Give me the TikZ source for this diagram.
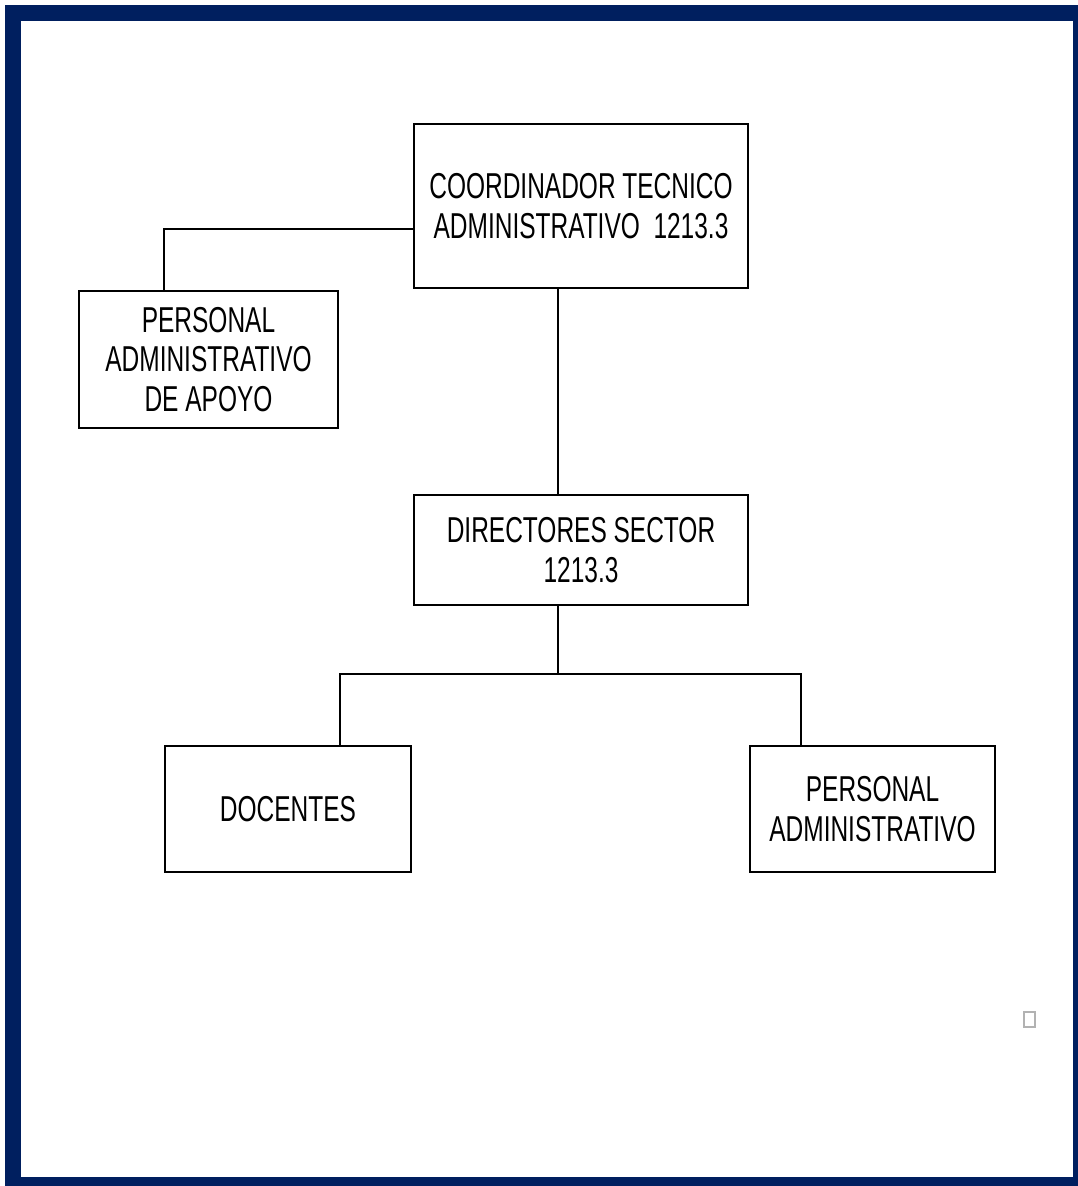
\documentclass[tikz,border=0pt]{standalone}
\usepackage{fontspec}
\newfontfamily\boxfont[FakeStretch=0.68]{Liberation Sans}
\definecolor{navy}{HTML}{001F5F}
\begin{document}
\begin{tikzpicture}[x=1pt,y=-1pt,
  orgbox/.style={draw=black, line width=2pt, fill=white, inner sep=0pt, align=center,
    font=\boxfont\fontsize{36}{39.5}\selectfont},
  link/.style={draw=black, line width=2pt}]
\useasboundingbox (0,0) rectangle (1078,1186);
\fill[white] (0,0) rectangle (1078,1186);
\fill[navy] (5,5) rectangle (1078,1186);
\fill[white] (21,21) rectangle (1073,1177);

\node[orgbox, minimum width=334pt, minimum height=164pt] (coord) at (581,206)
  {COORDINADOR TECNICO\\ADMINISTRATIVO\ \ 1213.3};
\node[orgbox, minimum width=259pt, minimum height=137pt] (paa) at (208.5,359.5)
  {PERSONAL\\ADMINISTRATIVO\\DE APOYO};
\node[orgbox, minimum width=334pt, minimum height=110pt] (dir) at (581,550)
  {DIRECTORES SECTOR\\1213.3};
\node[orgbox, minimum width=246pt, minimum height=126pt] (doc) at (288,809)
  {DOCENTES};
\node[orgbox, minimum width=245pt, minimum height=126pt] (pa) at (872.5,809)
  {PERSONAL\\ADMINISTRATIVO};

\coordinate (j1) at (164,229);
\draw[link] (coord.west |- j1) -- (j1) -- (j1 |- paa.north);
\coordinate (vx) at (558,674);
\draw[link] (vx |- coord.south) -- (vx |- dir.north);
\draw[link] (vx |- dir.south) -- (vx);
\coordinate (jl) at (340,674);
\coordinate (jr) at (801,674);
\draw[link] (jl |- doc.north) -- (jl) -- (jr) -- (jr |- pa.north);

\draw[gray!60, line width=2pt] (1024,1012) rectangle (1035,1027);
\end{tikzpicture}
\end{document}
